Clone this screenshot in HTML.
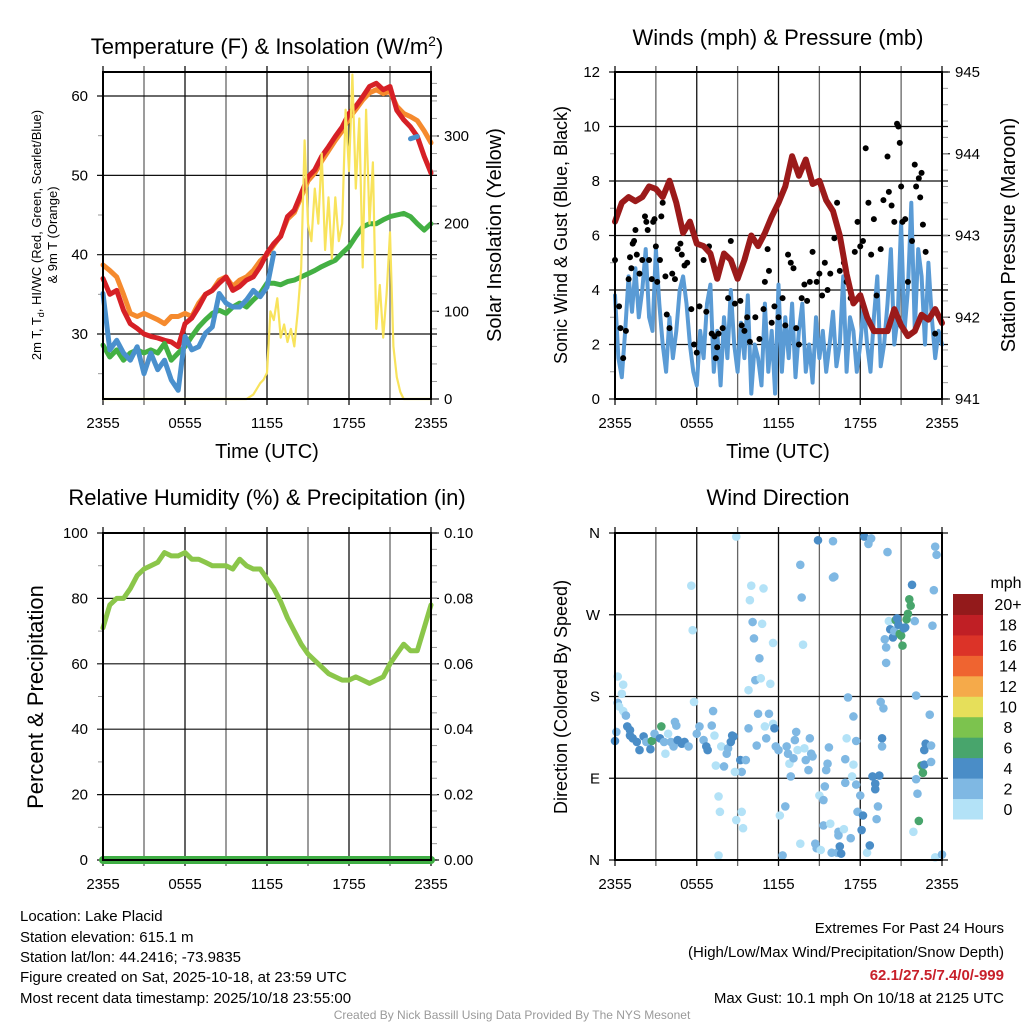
<!DOCTYPE html>
<html><head><meta charset="utf-8">
<style>
html,body{margin:0;padding:0;background:#fff;}
svg{display:block;font-family:"Liberation Sans",sans-serif;}
</style></head>
<body>
<svg id="fig" width="1024" height="1024" viewBox="0 0 1024 1024" xmlns="http://www.w3.org/2000/svg">
<text x="267" y="54" font-size="22" text-anchor="middle">Temperature (F) &amp; Insolation (W/m<tspan dy="-8" font-size="14">2</tspan><tspan dy="8">)</tspan></text>
<text x="778" y="45" font-size="22" text-anchor="middle">Winds (mph) &amp; Pressure (mb)</text>
<text x="267" y="505" font-size="22" text-anchor="middle">Relative Humidity (%) &amp; Precipitation (in)</text>
<text x="778" y="505" font-size="22" text-anchor="middle">Wind Direction</text>

<text transform="translate(41,235) rotate(-90)" font-size="13" text-anchor="middle">2m T, T<tspan font-size="9" dy="3">d</tspan><tspan dy="-3">, HI/WC (Red, Green, Scarlet/Blue)</tspan></text>
<text transform="translate(57,235) rotate(-90)" font-size="13" text-anchor="middle">&amp; 9m T (Orange)</text>
<text transform="translate(501,235) rotate(-90)" font-size="20" text-anchor="middle">Solar Insolation (Yellow)</text>
<text transform="translate(567,235) rotate(-90)" font-size="18" text-anchor="middle">Sonic Wind &amp; Gust (Blue, Black)</text>
<text transform="translate(1015,235) rotate(-90)" font-size="20" text-anchor="middle">Station Pressure (Maroon)</text>
<text transform="translate(43,697) rotate(-90)" font-size="22" text-anchor="middle">Percent &amp; Precipitation</text>
<text transform="translate(567,697) rotate(-90)" font-size="18" text-anchor="middle">Direction (Colored By Speed)</text>
<text x="267" y="458" font-size="20" text-anchor="middle">Time (UTC)</text>
<text x="778" y="458" font-size="20" text-anchor="middle">Time (UTC)</text>

<g font-size="15">
<text x="20" y="921">Location: Lake Placid</text>
<text x="20" y="942">Station elevation: 615.1 m</text>
<text x="20" y="962">Station lat/lon: 44.2416; -73.9835</text>
<text x="20" y="982">Figure created on Sat, 2025-10-18, at 23:59 UTC</text>
<text x="20" y="1003">Most recent data timestamp: 2025/10/18 23:55:00</text>
</g>
<g font-size="15" text-anchor="end">
<text x="1004" y="933">Extremes For Past 24 Hours</text>
<text x="1004" y="957">(High/Low/Max Wind/Precipitation/Snow Depth)</text>
<text x="1004" y="980" fill="#c8202a" font-weight="bold">62.1/27.5/7.4/0/-999</text>
<text x="1004" y="1003">Max Gust: 10.1 mph On 10/18 at 2125 UTC</text>
</g>
<text x="512" y="1019" font-size="12" fill="#9a9a9a" text-anchor="middle">Created By Nick Bassill Using Data Provided By The NYS Mesonet</text>
</svg>
<script>
// ---------- DATA ----------
const xTickLabels = ["2355","0555","1155","1755","2355"];
const xTickHours = [0,6,12,18,24];
// 30-minute series (0..24 h)
const tempRed = [37,35,35.5,33,31.3,30.7,30,29.7,29.5,29.2,29,28.4,31.3,32,33.4,35,35.5,36.4,37.2,35.5,36,36.8,37.2,38.5,40.2,41.4,42.3,44.8,45.6,47.7,49.8,50.7,52.4,53.6,54.9,56.1,57.8,58.7,59.9,61.2,61.6,60.8,61.2,58.2,57,56.1,54.9,52.4,50.3];
const temp9m = [38.7,38,37.2,35,32.6,32.2,32.6,32.2,31.8,31.3,32.2,32.2,32.6,32.2,33.9,35,35.5,36.8,37.2,36,36.8,37.2,38,39.2,40,41.2,42.4,44.5,45.3,47.3,49.3,50.3,51.8,53.1,54.4,55.6,57.2,58.3,59.5,60.4,60.8,60.3,60.6,58.7,57.8,57.4,56.9,55.6,54.1];
const dewpoint = [28.6,27.1,28,26.7,27.6,28,27.6,28,27.6,28.8,26.7,27.6,28.4,29.7,30.9,31.8,32.6,33,32.6,33.4,33.9,33.4,34.3,35.1,36.4,36.4,36.2,36.6,36.8,37.2,37.6,38,38.5,38.9,39.3,40.2,41,42.3,43.5,43.9,43.9,44.4,44.8,45,45.2,44.8,43.9,43.1,43.9];
const heatIndex = [35.1,28,29.2,27.6,26.7,28.4,25,27.6,25.5,26.7,24.2,22.9,29.7,28,28.4,30.1,30.9,35.1,33.9,33.4,33.4,34.3,35.5,34.7,35.9,40.2,null,null,null,null,null,null,null,null,null,null,null,null,null,null,null,null,null,null,null,54.6,54.9,null,null];
const insolHours = [0,10.5,11,11.5,11.75,12,12.25,12.5,12.75,13,13.25,13.5,13.75,14,14.25,14.5,14.75,15,15.25,15.5,15.75,16,16.25,16.5,16.75,17,17.25,17.5,17.75,18,18.25,18.5,18.75,19,19.25,19.5,19.75,20,20.25,20.5,20.75,21,21.25,21.5,21.75,22,24];
const insolVals = [0,0,5,18,22,30,100,90,115,70,85,65,80,60,100,150,295,200,180,240,200,280,170,230,160,230,180,200,330,260,370,240,320,150,330,200,270,80,130,70,120,190,60,25,8,0,0];
const windSpeed = [3.8,1.5,0.8,2.5,4.5,3.2,4.8,3.0,4.0,5.5,3.0,2.5,5.5,3.5,2.0,1.0,3.0,1.5,2.5,4.0,4.5,3.5,2.0,1.0,0.5,2.5,1.5,3.5,4.2,1.0,2.5,0.5,3.0,1.5,4.0,2.0,1.0,2.8,1.5,3.8,0.2,2.0,1.5,0.5,3.5,1.0,2.5,0.2,4.2,1.0,3.0,1.5,3.5,0.8,2.5,3.5,1.0,2.0,0.6,3.0,1.5,2.5,1.0,2.0,3.2,1.2,2.0,4.5,1.0,3.0,2.5,1.0,2.0,3.5,2.0,1.0,3.0,4.5,1.2,2.0,3.5,5.5,2.0,3.0,6.5,2.5,4.0,7.2,2.5,5.5,4.5,2.0,5.0,3.0,1.5,2.5,2.0];
const gustHours = [0,0.3,0.4,0.6,0.8,1.0,1.1,1.2,1.4,1.5,1.3,1.6,1.8,2.0,2.2,2.3,2.4,2.5,2.7,2.8,2.9,3.0,3.1,3.3,3.4,3.5,3.7,3.8,4.0,4.2,4.4,4.6,4.8,4.9,5.1,5.3,5.6,5.8,6.0,6.2,6.5,6.7,6.9,7.1,7.3,7.4,7.5,7.6,7.9,8.3,8.5,8.8,9.2,9.3,9.5,9.7,9.9,10.3,10.6,10.9,11.0,11.2,11.3,11.5,11.7,12.0,12.3,12.5,12.7,12.9,13.1,13.3,13.5,13.7,13.9,14.1,14.3,14.5,14.8,15.0,15.2,15.4,15.6,15.8,16.1,16.3,16.5,16.8,17.0,17.3,17.6,17.8,18.0,18.2,18.4,18.6,18.8,19.0,19.2,19.5,19.7,20.0,20.1,20.3,20.5,20.7,20.8,20.9,21.0,21.1,21.3,21.5,21.8,22.0,22.1,22.3,22.4,22.5,22.6,22.8,23.5];
const gustVals = [5.1,3.4,2.6,1.5,2.5,4.4,5.2,4.8,5.8,6.2,5.7,5.3,4.6,5.1,6.7,6.5,6.2,5.1,4.4,6.5,6.6,5.6,4.3,5.1,6.7,7.2,4.5,3.1,2.6,4.6,4.4,5.5,5.7,5.3,4.9,5.0,3.3,2.0,1.7,3.4,5.1,3.2,5.6,2.4,2.3,1.5,1.9,2.4,2.6,3.7,5.8,3.5,3.6,2.7,2.5,3.0,2.1,3.0,2.2,3.3,4.3,5.5,4.7,2.8,3.4,3.0,3.7,2.7,5.3,5.0,4.8,2.6,2.0,3.7,4.2,3.6,4.3,5.4,4.3,4.6,3.8,5.0,4.0,4.6,5.9,7.2,4.7,5.0,4.3,3.7,5.4,6.5,5.6,5.8,9.2,7.2,5.3,6.6,3.8,5.5,7.3,8.9,7.6,7.1,6.5,10.1,10.0,9.4,7.8,6.5,6.6,4.3,5.8,8.6,7.8,8.1,7.4,8.3,6.4,5.4,2.4];
const pressure = [943.17,943.4,943.47,943.42,943.47,943.6,943.57,943.47,943.67,943.4,943.03,943.17,942.9,942.87,942.78,942.47,942.78,942.7,942.47,942.7,943.0,942.87,943.03,943.23,943.4,943.6,943.97,943.73,943.93,943.63,943.67,943.43,943.3,943.0,942.53,942.17,942.27,942.0,941.83,941.83,941.83,942.1,941.9,941.77,941.83,942.03,941.97,942.1,941.93];
const rhVals = [71,78,80,80,83,87,89,90,91,94,93,93,94,92,92,91,90,90,90,89,92,90,89,89,86,83,79,74,70,66,63,61,59,57,56,55,55,56,55,54,55,56,60,63,66,64,64,71,78];
const precipVals = [0,0,0,0,0,0,0,0,0,0,0,0,0,0,0,0,0,0,0,0,0,0,0,0,0];
const dirHours = [0,0.1,0.2,0.6,0.5,0.2,0.3,0.6,0.8,0.9,1.1,1.1,1.3,1.6,1.8,2.1,2.3,2.6,2.7,2.9,3.4,3.3,3.6,3.7,3.9,4.1,4.3,4.4,4.5,4.6,4.9,5.1,5.4,5.6,5.7,5.8,6.0,6.2,6.5,6.7,6.8,7.1,7.2,7.3,7.4,7.6,7.7,7.6,7.8,8.0,8.2,8.3,8.5,8.6,8.7,8.9,9.2,9.3,8.8,8.9,9.4,9.3,9.6,9.8,9.8,9.9,10.0,10.1,10.2,10.3,10.4,10.5,10.6,10.7,10.8,10.9,11.0,11.1,11.3,11.4,11.6,11.6,11.7,11.8,12.0,12.1,12.3,12.5,12.6,12.7,12.8,12.9,13.1,13.2,13.3,13.4,13.6,13.6,13.7,13.8,13.9,14.0,14.2,14.3,14.4,14.5,14.7,14.8,14.9,15.0,15.1,15.3,15.3,15.4,15.5,15.6,15.7,15.8,15.9,16.0,16.0,16.1,16.3,16.4,16.4,16.5,16.6,16.8,16.9,16.9,17.0,17.1,17.3,17.4,17.5,17.5,17.7,17.7,17.8,18.0,18.1,18.2,18.3,18.5,18.6,18.7,18.8,18.9,19.1,19.1,19.2,19.3,19.4,19.5,19.7,19.6,19.6,19.8,19.9,19.9,20.0,20.1,20.2,20.4,20.5,20.6,20.7,20.8,20.9,21.0,21.1,21.2,21.3,21.4,21.5,21.6,21.7,21.8,22.0,22.1,22.1,22.2,22.3,22.5,22.6,22.7,22.7,22.8,23.1,23.2,23.2,23.3,23.4,23.5,23.6,21.9,23.5,24.0];
const dirVals = [131,141,202,193,183,173,169,164,159,147,143,137,134,130,121,136,130,122,131,139,147,134,130,117,139,130,125,152,148,132,128,130,125,302,253,174,139,147,132,125,121,148,164,137,104,70,53,5,125,103,117,123,130,137,136,356,110,97,97,44,35,53,110,145,187,286,302,262,244,198,126,161,222,200,260,299,147,134,161,194,239,150,145,125,121,49,5,59,125,117,106,92,112,132,141,121,18,325,289,237,123,110,99,134,117,114,18,13,352,71,11,38,66,81,99,106,124,40,8,351,311,312,8,27,31,15,7,34,111,85,134,179,24,92,105,158,131,83,53,71,33,49,356,8,348,16,354,92,84,78,45,59,93,174,167,134,125,243,234,217,339,263,254,245,252,264,266,259,249,247,236,255,256,265,271,287,280,303,263,181,89,73,43,104,96,105,121,128,160,126,108,258,297,345,336,31,3,6];
const dirSpeeds = [5,3,1,1,1,3,1,1,3,5,5,5,5,5,5,5,3,5,7,3,7,5,3,1,1,3,3,3,3,5,5,5,3,1,1,1,3,3,3,5,5,3,3,1,1,1,1,1,1,3,3,3,5,5,5,1,5,3,1,1,1,1,3,3,1,1,1,3,3,3,3,3,3,1,1,1,1,3,3,1,1,1,5,3,3,1,3,3,3,3,1,3,3,3,3,1,1,3,3,1,1,3,3,3,3,3,3,3,5,1,1,3,3,3,3,3,3,1,3,3,3,3,3,3,3,5,5,1,3,3,1,3,3,1,1,3,3,3,3,3,5,5,5,1,3,5,3,5,5,5,3,3,5,3,3,5,3,3,3,3,3,1,5,5,3,7,5,5,7,7,7,5,5,7,7,7,7,5,3,3,3,3,7,7,7,5,5,5,3,3,3,3,3,3,3,1,1,3];
const cbLabels = ["0","2","4","6","8","10","12","14","16","18","20+"];
const cbColors = ["#b3e2f7","#7fb8e3","#4a8dc7","#48a56c","#7cc34e","#e6df5a","#f5aa4a","#ef6430","#dc3328","#c01f25","#931a1b"];

// ---------- HELPERS ----------
const NS="http://www.w3.org/2000/svg";
const svg=document.getElementById("fig");
function mk(tag, attrs, parent){const e=document.createElementNS(NS,tag);for(const k in attrs)e.setAttribute(k,attrs[k]);(parent||svg).appendChild(e);return e;}
function grp(name){const g=mk("g",{});


return g;}

function panel(p){
  const g=grp(p.name);
  // vertical grid every 3 hours
  for(let h=0;h<=24;h+=3){const x=p.x(h);
    const l=mk("line",{x1:x,y1:p.top-6,x2:x,y2:p.bottom+6,stroke:(h%6==0)?"#111":"#666","stroke-width":1.3},g);
    
    }
  p.yTicks.forEach((v,i)=>{const y=p.yL(v);
    const l=mk("line",{x1:p.left-6,y1:y,x2:p.right+6,y2:y,stroke:"#111","stroke-width":1.2},g);
    
    
    const t=mk("text",{x:p.left-15,y:y+5,"font-size":15,"text-anchor":"end"},g);t.textContent=p.yLabels[i];
    
    });
  if(p.yMinor)p.yMinor.forEach(v=>{const y=p.yL(v);mk("line",{x1:p.left-5,y1:y,x2:p.left,y2:y,stroke:"#999","stroke-width":1},g);});
  if(p.rTicks)p.rTicks.forEach((v,i)=>{const y=p.yR(v);
    mk("line",{x1:p.right,y1:y,x2:p.right+8,y2:y,stroke:"#111","stroke-width":1.2},g);
    const t=mk("text",{x:p.right+13,y:y+5,"font-size":15},g);t.textContent=p.rLabels[i];
    
    });
  if(p.rMinor)p.rMinor.forEach(v=>{const y=p.yR(v);mk("line",{x1:p.right,y1:y,x2:p.right+6,y2:y,stroke:"#999","stroke-width":1},g);});
  xTickHours.forEach((h,i)=>{const t=mk("text",{x:p.x(h),y:p.bottom+29,"font-size":15,"text-anchor":"middle"},g);t.textContent=xTickLabels[i];
    
    });
  return g;
}
function frame(p){const r=mk("rect",{x:p.left,y:p.top,width:p.right-p.left,height:p.bottom-p.top,fill:"none",stroke:"#000","stroke-width":2});

}
function line(hours, vals, xf, yf, color, w, name){
  let d="",pen=false;
  for(let i=0;i<vals.length;i++){if(vals[i]===null||vals[i]===undefined){pen=false;continue;}
    d+=(pen?"L":"M")+xf(hours[i]).toFixed(1)+","+yf(vals[i]).toFixed(1);pen=true;}
  const pth=mk("path",{d:d,fill:"none",stroke:color,"stroke-width":w,"stroke-linejoin":"round","stroke-linecap":"round"});
  
  
  return pth;
}
const half=a=>a.map((_,i)=>i*24/(a.length-1));
const rng=(a,b,s)=>{const r=[];for(let v=a;v<=b+1e-9;v+=s)r.push(+v.toFixed(3));return r;};

// ---------- TOP-LEFT: temperature ----------
const TL={name:"temperature-panel",left:103,right:431,top:72,bottom:399};
TL.x=h=>103+h*328/24; TL.yL=t=>334-(t-30)*7.933; TL.yR=v=>399-v*0.8767;
TL.yTicks=[30,40,50,60]; TL.yLabels=["30","40","50","60"]; TL.yMinor=[25,35,45,55];
TL.rTicks=[0,100,200,300]; TL.rLabels=["0","100","200","300"]; TL.rMinor=rng(20,360,20);
panel(TL);
line(half(temp9m),temp9m,TL.x,TL.yL,"#f58a2e",5,"9m-temperature-line");
line(half(tempRed),tempRed,TL.x,TL.yL,"#d62026",5,"2m-temperature-line");
line(half(dewpoint),dewpoint,TL.x,TL.yL,"#43b043",5,"dewpoint-line");
line(half(heatIndex),heatIndex,TL.x,TL.yL,"#4a90cd",5,"heat-index-wind-chill-line");
line(insolHours,insolVals,TL.x,TL.yR,"#f8e35c",2.2,"solar-insolation-line");
frame(TL);

// ---------- TOP-RIGHT: winds ----------
const TR={name:"winds-panel",left:615,right:942,top:72,bottom:399};
TR.x=h=>615+h*327/24; TR.yL=w=>399-w*27.25; TR.yR=p=>399-(p-941)*81.75;
TR.yTicks=[0,2,4,6,8,10,12]; TR.yLabels=["0","2","4","6","8","10","12"]; TR.yMinor=rng(1,11,2);
TR.rTicks=[941,942,943,944,945]; TR.rLabels=["941","942","943","944","945"]; TR.rMinor=rng(941.2,944.8,0.2);
panel(TR);
line(half(windSpeed),windSpeed,TR.x,TR.yL,"#5a9bd5",4,"sonic-wind-line");
gustHours.forEach((h,i)=>{const c=mk("circle",{cx:TR.x(h),cy:TR.yL(gustVals[i]),r:3,fill:"#000"});
  
  });
line(half(pressure),pressure,TR.x,TR.yR,"#9b1a1a",6,"station-pressure-line");
frame(TR);

// ---------- BOTTOM-LEFT: humidity ----------
const BL={name:"humidity-panel",left:103,right:431,top:533,bottom:860};
BL.x=h=>103+h*328/24; BL.yL=r=>860-r*3.27; BL.yR=p=>860-p*3270;
BL.yTicks=[0,20,40,60,80,100]; BL.yLabels=["0","20","40","60","80","100"]; BL.yMinor=rng(10,90,20);
BL.rTicks=[0,0.02,0.04,0.06,0.08,0.10]; BL.rLabels=["0.00","0.02","0.04","0.06","0.08","0.10"]; BL.rMinor=rng(0.005,0.095,0.005);
panel(BL);
line(half(rhVals),rhVals,BL.x,BL.yL,"#8bc64a",5,"relative-humidity-line");
line(half(precipVals),precipVals,BL.x,BL.yR,"#3fae44",8,"precipitation-line");
frame(BL);

// ---------- BOTTOM-RIGHT: wind direction ----------
const BR={name:"wind-direction-panel",left:615,right:942,top:533,bottom:860};
BR.x=h=>615+h*327/24; BR.yL=d=>860-d*327/360;
BR.yTicks=[0,90,180,270,360]; BR.yLabels=["N","E","S","W","N"];
panel(BR);
function speedColor(s){const i=Math.min(10,Math.max(0,Math.floor(s/2)));return cbColors[i];}
dirHours.forEach((h,i)=>{const c=mk("circle",{cx:BR.x(h),cy:BR.yL(dirVals[i]),r:4.3,fill:speedColor(dirSpeeds[i])});
  
  });
frame(BR);

// colorbar
const cb=grp("speed-colorbar");
const cbTop=594,cbBot=819,binH=(cbBot-cbTop)/cbColors.length;
cbColors.forEach((c,i)=>{const y=cbBot-(i+1)*binH;
  const r=mk("rect",{x:953,y:y,width:30,height:binH+0.5,fill:c},cb);
  
  
  const t=mk("text",{x:1008,y:y+binH/2+6,"font-size":16,"text-anchor":"middle"},cb);t.textContent=cbLabels[i];
  
  });
const mph=mk("text",{x:1006,y:588,"font-size":16,"text-anchor":"middle"},cb);mph.textContent="mph";


</script>
</body></html>
